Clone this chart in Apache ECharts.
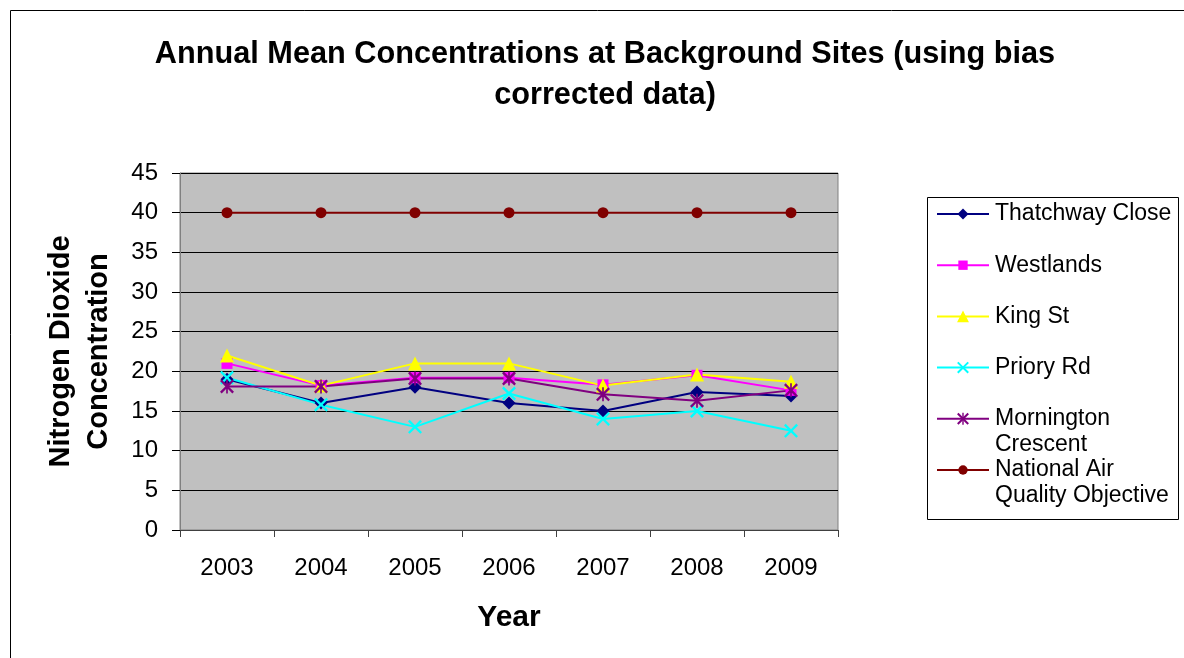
<!DOCTYPE html>
<html>
<head>
<meta charset="utf-8">
<script src="https://cdn.jsdelivr.net/npm/echarts@6/dist/echarts.min.js"></script>
<style>html,body{margin:0;padding:0;background:#fff}#c{width:1184px;height:658px}</style>
</head>
<body>
<div id="c"></div>
<script>
var years = ['2003','2004','2005','2006','2007','2008','2009'];
var thatchwayClose = [19, 16, 18, 16, 15, 17.4, 16.9];
var westlands = [21, 18.2, 19.2, 19.2, 18.3, 19.5, 17.6];
var kingSt = [22, 18.2, 21, 21, 18.2, 19.6, 18.7];
var prioryRd = [19.2, 15.8, 13, 17.2, 14, 15, 12.5];
var morningtonCrescent = [18.1, 18.1, 19.1, 19.1, 17.1, 16.3, 17.6];
var nationalObjective = [40, 40, 40, 40, 40, 40, 40];
var yTicks = [0, 5, 10, 15, 20, 25, 30, 35, 40, 45];

var FONT = '"Liberation Sans", Arial, sans-serif';
var X_PTS = [[0,1.2],[1.2,0],[5,3.8],[8.8,0],[10,1.2],[6.2,5],[10,8.8],[8.8,10],[5,6.2],[1.2,10],[0,8.8],[3.8,5]];
function ptsPath(p) { return 'M' + p.map(function (q) { return q[0] + ',' + q[1]; }).join('L') + 'Z'; }
var X_PATH = ptsPath(X_PTS);
var AST_PATH = X_PATH + 'M4.4,0L5.6,0L5.6,10L4.4,10Z';

var seriesDefs = [
  {name: 'Thatchway Close', label: ['Thatchway Close'], data: thatchwayClose, color: '#000080', symbol: 'diamond', size: 13},
  {name: 'Westlands', label: ['Westlands'], data: westlands, color: '#FF00FF', symbol: 'rect', size: 11},
  {name: 'King St', label: ['King St'], data: kingSt, color: '#FFFF00', symbol: 'triangle', size: 14},
  {name: 'Priory Rd', label: ['Priory Rd'], data: prioryRd, color: '#00FFFF', symbol: 'path://' + X_PATH, size: 14, kind: 'x'},
  {name: 'Mornington Crescent', label: ['Mornington', 'Crescent'], data: morningtonCrescent, color: '#800080', symbol: 'path://' + AST_PATH, size: 14, kind: 'ast'},
  {name: 'National Air Quality Objective', label: ['National Air', 'Quality Objective'], data: nationalObjective, color: '#800000', symbol: 'circle', size: 11}
];

var series = seriesDefs.map(function (d) {
  return {
    name: d.name, type: 'line', data: d.data, symbol: d.symbol, symbolSize: d.size,
    lineStyle: {color: d.color, width: 2},
    itemStyle: {color: d.color, borderWidth: 0},
    emphasis: {disabled: true}, animation: false
  };
});

// legend drawn as graphic
var legendEls = [{
  type: 'rect', shape: {x: 927.5, y: 197.5, width: 251, height: 322},
  style: {fill: '#fff', stroke: '#000', lineWidth: 1}
}];
seriesDefs.forEach(function (d, i) {
  var cy = 214 + i * 51.2;
  legendEls.push({type: 'line', shape: {x1: 937, y1: cy, x2: 989, y2: cy}, style: {stroke: d.color, lineWidth: 2}});
  var s = d.size * 0.85, cx = 963;
  var syms = [];
  function scaled(p) { return p.map(function (q) { return [cx - s / 2 + q[0] * s / 10, cy - s / 2 + q[1] * s / 10]; }); }
  if (d.symbol === 'diamond') syms.push({type: 'polygon', shape: {points: [[cx, cy - s / 2], [cx + s / 2, cy], [cx, cy + s / 2], [cx - s / 2, cy]]}});
  else if (d.symbol === 'rect') syms.push({type: 'rect', shape: {x: cx - s / 2, y: cy - s / 2, width: s, height: s}});
  else if (d.symbol === 'triangle') syms.push({type: 'polygon', shape: {points: [[cx, cy - s / 2], [cx + s / 2, cy + s / 2], [cx - s / 2, cy + s / 2]]}});
  else if (d.symbol === 'circle') syms.push({type: 'circle', shape: {cx: cx, cy: cy, r: s / 2}});
  else {
    syms.push({type: 'polygon', shape: {points: scaled(X_PTS)}});
    if (d.kind === 'ast') syms.push({type: 'rect', shape: {x: cx - 0.06 * s, y: cy - s / 2, width: 0.12 * s, height: s}});
  }
  syms.forEach(function (sym) { sym.style = {fill: d.color}; legendEls.push(sym); });
  legendEls.push({
    type: 'text', x: 995, y: cy - 13,
    style: {text: d.label.join('\n'), font: '23px ' + FONT, fill: '#000', lineHeight: 26, verticalAlign: 'top', textAlign: 'left'}
  });
});

var chart = echarts.init(document.getElementById('c'), null, {renderer: 'canvas'});
chart.setOption({
  backgroundColor: '#fff',
  animation: false,
  title: {
    text: 'Annual Mean Concentrations at Background Sites (using bias\ncorrected data)',
    left: 605, top: 34, textAlign: 'center', padding: 0,
    textStyle: {fontFamily: FONT, fontSize: 30.7, fontWeight: 'bold', color: '#000', lineHeight: 41}
  },
  legend: {show: false},
  grid: {left: 180, top: 173, width: 658, height: 357, show: true, backgroundColor: '#C0C0C0', borderColor: '#808080', borderWidth: 1, containLabel: false},
  xAxis: {
    type: 'category', data: years, boundaryGap: true,
    name: 'Year', nameLocation: 'middle', nameGap: 73,
    nameTextStyle: {fontFamily: FONT, fontSize: 30, fontWeight: 'bold', color: '#000'},
    axisLine: {lineStyle: {color: '#404040', width: 1}},
    axisTick: {show: true, length: 7, lineStyle: {color: '#404040'}},
    axisLabel: {fontFamily: FONT, fontSize: 24, color: '#000', margin: 26},
    splitLine: {show: false}
  },
  yAxis: {
    type: 'value', min: 0, max: 45, interval: 5,
    name: 'Nitrogen Dioxide\nConcentration', nameLocation: 'middle', nameGap: 62, nameRotate: 90,
    nameTextStyle: {fontFamily: FONT, fontSize: 29, fontWeight: 'bold', color: '#000', lineHeight: 38},
    axisLine: {show: true, lineStyle: {color: '#808080', width: 1}},
    axisTick: {show: true, length: 8, lineStyle: {color: '#000'}},
    axisLabel: {fontFamily: FONT, fontSize: 24, color: '#000', margin: 22,
      formatter: function (v) { return yTicks.indexOf(v) >= 0 ? String(v) : ''; }},
    splitLine: {show: true, lineStyle: {color: '#000', width: 1}}
  },
  series: series,
  graphic: [{
    type: 'rect', shape: {x: 10.5, y: 10.5, width: 1300, height: 800},
    style: {fill: 'none', stroke: '#000', lineWidth: 1}, silent: true, z: -1
  }].concat(legendEls)
});
</script>
</body>
</html>
